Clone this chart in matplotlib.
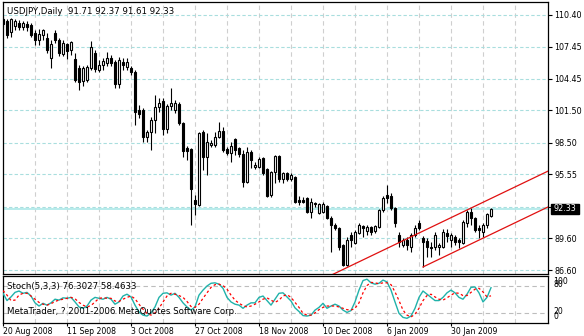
import matplotlib
matplotlib.use("Agg")
import matplotlib.pyplot as plt
import matplotlib.transforms as mtransforms
from matplotlib.patches import Rectangle
import numpy as np

symbol = "USDJPY"
period = "Daily"

opens = [110.03, 109.84, 108.82, 109.38, 109.66, 109.28, 109.56, 109.47, 108.72, 108.07,
         108.54, 108.26, 106.39, 108.72, 108.07, 106.77, 107.70, 107.14, 106.30, 105.46,
         104.25, 104.34, 105.46, 106.86, 105.28, 105.74, 105.93, 106.39, 106.02, 103.97,
         106.02, 105.56, 105.46, 105.09, 101.55, 101.55, 99.03, 99.50, 100.62, 101.83,
         102.39, 99.78, 101.92, 101.55, 102.11, 100.34, 98.01, 97.91, 93.16, 92.69,
         99.50, 97.17, 98.29, 98.29, 99.03, 99.59, 97.91, 97.54, 98.85, 98.01,
         97.45, 94.84, 97.63, 96.24, 96.24, 97.07, 96.05, 93.63, 95.77, 97.26,
         95.12, 95.68, 95.12, 95.30, 93.16, 93.16, 93.35, 92.04, 92.88, 91.95,
         92.04, 92.60, 91.48, 90.83, 90.55, 88.97, 87.10, 89.90, 89.15, 90.08,
         90.74, 90.27, 90.64, 90.27, 90.64, 92.23, 93.63, 93.53, 92.41, 89.90,
         88.97, 89.43, 88.78, 89.90, 91.02, 89.62, 89.34, 88.78, 88.78, 88.78,
         88.78, 90.08, 89.43, 89.71, 89.43, 89.15, 91.02, 92.04, 91.48, 90.55,
         90.18, 90.83, 91.71]
highs = [110.22, 110.03, 110.12, 110.03, 109.94, 109.84, 109.84, 109.66, 109.00, 109.10,
         109.10, 108.72, 108.07, 109.00, 108.26, 108.07, 107.79, 107.98, 106.86, 105.74,
         105.65, 105.74, 107.98, 107.14, 106.21, 106.39, 106.95, 106.67, 106.21, 106.49,
         106.39, 106.39, 105.65, 105.28, 102.01, 101.73, 99.68, 100.90, 102.95, 102.67,
         102.67, 102.11, 103.60, 102.48, 102.29, 100.43, 98.19, 98.01, 93.63, 99.50,
         99.68, 99.40, 98.75, 99.50, 100.43, 99.96, 98.10, 98.57, 98.94, 98.10,
         97.82, 98.10, 97.82, 96.70, 97.17, 97.17, 96.14, 95.86, 97.35, 97.35,
         95.77, 95.77, 95.68, 95.40, 93.53, 93.44, 93.44, 93.35, 92.97, 92.88,
         92.97, 92.69, 91.67, 91.02, 90.64, 89.06, 89.71, 90.18, 90.36, 91.02,
         90.83, 90.83, 90.74, 90.83, 92.32, 93.53, 94.56, 93.81, 92.51, 90.18,
         89.62, 89.71, 90.08, 90.83, 91.30, 89.80, 89.62, 89.25, 90.18, 89.15,
         90.46, 90.46, 90.08, 89.90, 89.62, 91.30, 92.23, 92.41, 91.58, 90.83,
         91.02, 91.95, 92.37]
lows = [109.28, 108.26, 108.35, 109.00, 109.00, 109.00, 108.91, 108.35, 107.61, 107.61,
        108.07, 106.86, 105.46, 107.79, 106.58, 106.58, 106.30, 106.67, 104.16, 103.41,
        103.78, 104.16, 105.28, 105.09, 105.09, 105.28, 105.65, 105.65, 103.60, 103.60,
        105.28, 105.28, 104.81, 100.15, 100.80, 98.57, 98.57, 97.82, 99.40, 101.36,
        99.22, 99.40, 101.55, 101.27, 100.15, 97.17, 96.89, 90.83, 91.76, 92.60,
        95.96, 95.49, 98.10, 98.10, 98.94, 97.63, 97.35, 96.70, 97.35, 97.17,
        94.37, 94.74, 96.14, 96.05, 96.14, 95.49, 93.44, 93.44, 94.74, 94.84,
        94.74, 94.93, 94.93, 92.88, 92.69, 92.88, 91.95, 91.48, 92.51, 91.86,
        91.95, 91.39, 88.31, 90.36, 88.50, 87.01, 87.01, 88.78, 89.06, 89.99,
        89.71, 89.90, 89.90, 90.08, 90.55, 92.04, 92.88, 92.23, 90.64, 88.78,
        88.78, 88.50, 88.31, 89.71, 90.36, 86.92, 87.85, 87.85, 88.50, 88.03,
        88.69, 89.25, 88.78, 88.97, 88.69, 89.06, 90.64, 90.83, 90.18, 89.62,
        89.71, 90.55, 91.61]
closes = [109.56, 108.54, 110.03, 109.84, 109.28, 109.66, 109.28, 108.54, 108.07, 108.63,
          109.00, 107.14, 107.70, 108.07, 106.86, 107.79, 107.05, 107.89, 104.34, 104.16,
          105.46, 105.56, 107.42, 105.37, 105.74, 106.11, 106.39, 105.93, 103.97, 106.21,
          105.74, 106.02, 105.09, 101.36, 101.18, 99.03, 99.50, 100.62, 101.83, 102.20,
          99.78, 101.92, 102.20, 102.20, 100.34, 97.73, 97.73, 94.19, 92.79, 99.40,
          97.17, 98.57, 98.47, 99.03, 99.59, 97.82, 97.54, 98.19, 97.82, 97.45,
          94.84, 97.63, 96.89, 96.42, 96.98, 95.68, 93.53, 95.77, 97.26, 95.12,
          95.68, 95.12, 95.49, 92.97, 92.97, 92.97, 92.04, 92.97, 92.79, 92.79,
          92.79, 91.48, 90.83, 90.55, 88.78, 87.10, 89.43, 89.43, 90.18, 90.83,
          90.55, 90.64, 90.18, 90.74, 92.23, 93.35, 93.35, 92.41, 91.02, 89.25,
          89.43, 88.97, 89.90, 90.55, 90.55, 89.25, 88.78, 88.69, 89.90, 88.97,
          90.18, 89.80, 89.90, 89.25, 89.25, 91.11, 92.04, 91.48, 90.36, 90.36,
          90.83, 91.86, 92.33]

# Stochastic(5,3,3): %K main line and %D signal line
stoch_main = [64, 48, 56, 66, 69, 64, 66, 58, 43, 36,
              42, 38, 43, 51, 49, 54, 53, 55, 45, 34,
              31, 36, 49, 55, 53, 51, 55, 51, 40, 45,
              58, 62, 56, 38, 23, 16, 14, 21, 34, 55,
              64, 65, 60, 64, 55, 43, 34, 27, 34, 60,
              71, 80, 86, 87, 84, 75, 55, 45, 40, 38,
              31, 38, 43, 43, 55, 58, 48, 38, 51, 64,
              65, 56, 47, 32, 24, 15, 14, 16, 27, 33,
              42, 31, 36, 40, 36, 27, 22, 26, 45, 71,
              92, 95, 87, 84, 86, 93, 89, 71, 45, 20,
              11, 9, 14, 31, 55, 69, 62, 55, 48, 48,
              55, 65, 71, 65, 55, 51, 62, 77, 78, 65,
              45, 55, 76.3027]
stoch_signal = [70, 60, 48, 49, 60, 64, 64, 58, 51, 44,
                40, 38, 41, 46, 49, 51, 53, 55, 52, 44,
                38, 34, 37, 45, 53, 54, 53, 53, 47, 46,
                51, 55, 58, 52, 40, 29, 20, 16, 21, 31,
                45, 58, 64, 62, 59, 55, 46, 35, 33, 40,
                53, 65, 77, 83, 84, 81, 73, 60, 49, 42,
                37, 34, 36, 40, 45, 51, 54, 49, 44, 49,
                58, 61, 55, 44, 33, 20, 16, 16, 21, 28,
                33, 36, 36, 36, 34, 31, 28, 27, 31, 43,
                65, 81, 88, 87, 85, 87, 87, 83, 67, 48,
                27, 16, 12, 18, 31, 48, 59, 62, 56, 51,
                49, 54, 60, 65, 64, 59, 59, 66, 73, 75,
                67, 56, 58.4633]
stoch_levels = [20, 80]
stoch_scale_labels = ["100", "80", "20", "0"]
stoch_scale_values = [100, 80, 20, 0]

date_labels = ["20 Aug 2008", "11 Sep 2008", "3 Oct 2008", "27 Oct 2008",
               "18 Nov 2008", "10 Dec 2008", "6 Jan 2009", "30 Jan 2009"]
date_label_bars = [0, 16, 32, 48, 64, 80, 96, 112]

price_levels = [110.40, 107.45, 104.45, 101.50, 98.50, 95.55, 92.55, 89.60, 86.60]
price_labels = ["110.40", "107.45", "104.45", "101.50", "98.50", "95.55", "", "89.60", "86.60"]

# equidistant channel (bar index, price)
channel_lower_x = [105, 136.25]
channel_lower_y = [86.92, 92.51]
channel_upper_x = [80, 136.25]
channel_upper_y = [85.79, 95.85]

# ---------------------------------------------------------------------------
W, H = 584, 336
plt.rcParams["font.family"] = "DejaVu Sans"
fig = plt.figure(figsize=(W / 100, H / 100), dpi=100, facecolor="white")

def fig_box(left, top, right, bottom):
    return [left / W, 1 - bottom / H, (right - left) / W, (bottom - top) / H]

ax = fig.add_axes(fig_box(2.5, 2, 548, 273.5))
sub = fig.add_axes(fig_box(2.5, 276, 548, 323))

n = len(closes)
x = np.arange(n)
o = np.array(opens); h = np.array(highs); l = np.array(lows); c = np.array(closes)
up = c >= o

xmin, xmax = -0.125, 136.25
HGRID = "#a9dede"
VGRID = "#cfcfcf"

for a in (ax, sub):
    a.set_xlim(xmin, xmax)
    for s in a.spines.values():
        s.set_color("black")
        s.set_linewidth(0.9)
    for b in range(8, 136, 8):
        a.axvline(b, color=VGRID, lw=0.8, ls=(0, (4, 3)), zorder=0)

ax.set_ylim(86.31, 111.61)
for lev in price_levels:
    ax.axhline(lev, color=HGRID, lw=0.8, ls=(0, (3, 2)), zorder=0)

# bid line
ax.axhline(closes[-1], color="#b2eaea", lw=1.3, zorder=0.5)

# candles
ax.vlines(x, l, h, color="black", lw=0.8, zorder=2)
body_lo = np.minimum(o, c)
body_h = np.maximum(np.abs(c - o), 0.02)
ax.bar(x, body_h, bottom=body_lo, width=0.62,
       color=np.where(up, "white", "black"), edgecolor="black", linewidth=0.8, zorder=3)

# channel
ax.plot(channel_lower_x, channel_lower_y, color="#e01010", lw=0.9, zorder=4)
ax.plot(channel_upper_x, channel_upper_y, color="#e01010", lw=0.9, zorder=4)

ax.set_xticks([])
ax.yaxis.tick_right()
ax.set_yticks(price_levels)
ax.set_yticklabels(price_labels)
ax.tick_params(axis="y", direction="out", length=3, width=0.8, labelsize=5.8, pad=1.5,
               colors="black")

# last price box on the scale
tr = mtransforms.blended_transform_factory(fig.transFigure, ax.transData)
box_h = 9.5 * (111.61 - 86.31) / 271.5
fig.add_artist(Rectangle((551 / W, closes[-1] - box_h / 2), 28 / W, box_h,
                         transform=tr, facecolor="black", edgecolor="black", zorder=10))
fig.text(565 / W, closes[-1], f"{closes[-1]:.2f}", transform=tr, color="white",
         fontsize=5.8, ha="center", va="center", zorder=11)

fig.text(7 / W, 1 - 11 / H,
         f"{symbol},{period}  {opens[-1]:.2f} {highs[-1]:.2f} {lows[-1]:.2f} {closes[-1]:.2f}",
         fontsize=6.2, ha="left", va="center", color="black")

# stochastic panel
sub.set_ylim(-1.3, 102)
for lev in stoch_levels:
    sub.axhline(lev, color="#bdbdbd", lw=0.8, ls=(0, (4, 3)), zorder=0)
sub.plot(x, stoch_main, color="#20b2aa", lw=1.0, zorder=3)
sub.plot(x, stoch_signal, color="#ff0000", lw=0.9, ls=(0, (2, 2)), zorder=3)

sub.set_yticks([])
sub.set_xticks(date_label_bars)
sub.set_xticklabels([date_labels[i] for i in range(len(date_label_bars))])
sub.tick_params(axis="x", direction="out", length=2, width=0.8, labelsize=5.6, pad=0.6,
                colors="black")
for lbl in sub.get_xticklabels():
    lbl.set_horizontalalignment("left")

# scale captions of the oscillator window (pairs are drawn close together)
trs = mtransforms.blended_transform_factory(fig.transFigure, sub.transData)
offsets = {100: -9, 80: 4, 20: 3, 0: 14}
for lab, val in zip(stoch_scale_labels, stoch_scale_values):
    fig.text(553 / W, val + offsets[val], lab, transform=trs, fontsize=5.6,
             ha="left", va="center", color="black")

fig.text(7 / W, 1 - 286 / H,
         f"Stoch(5,3,3) {stoch_main[-1]:.4f} {stoch_signal[-1]:.4f}",
         fontsize=6.2, ha="left", va="center", color="black", zorder=5)
fig.text(7 / W, 1 - 312 / H, "MetaTrader, ? 2001-2006 MetaQuotes Software Corp.",
         fontsize=6.2, ha="left", va="center", color="black", zorder=5)

fig.savefig("out.png", dpi=100, facecolor="white")
